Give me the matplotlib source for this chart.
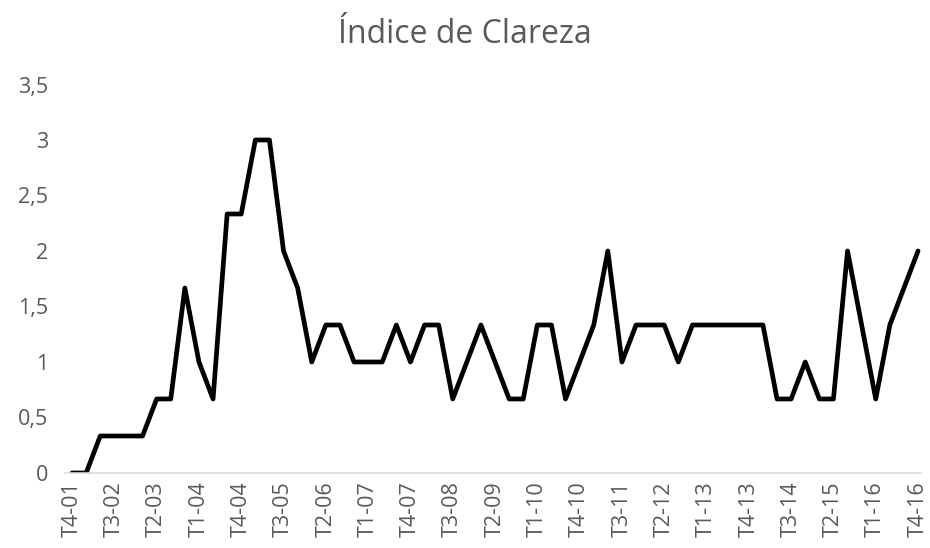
import matplotlib.pyplot as plt

# Índice de Clareza, trimestral T4-01 .. T4-16
t = 1 / 3
valores = [
    0, 0, t, t, t, t, 2*t, 2*t, 5*t, 1, 2*t,
    7*t, 7*t, 3, 3, 2, 5*t, 1, 4*t, 4*t, 1,
    1, 1, 4*t, 1, 4*t, 4*t, 2*t, 1, 4*t, 1,
    2*t, 2*t, 4*t, 4*t, 2*t, 1, 4*t, 2, 1, 4*t,
    4*t, 4*t, 1, 4*t, 4*t, 4*t, 4*t, 4*t, 4*t, 2*t,
    2*t, 1, 2*t, 2*t, 2, 4*t, 2*t, 4*t, 5*t, 2,
]

# rótulos trimestrais
trimestres = []
ano, tri = 1, 4
for _ in range(len(valores)):
    trimestres.append(f"T{tri}-{ano:02d}")
    tri += 1
    if tri > 4:
        tri = 1
        ano += 1

y_ticks = [0, 0.5, 1, 1.5, 2, 2.5, 3, 3.5]
y_labels = ["0", "0,5", "1", "1,5", "2", "2,5", "3", "3,5"]

plt.rcParams['font.family'] = ['Open Sans', 'DejaVu Sans']
cinza = '#595959'

fig = plt.figure(figsize=(9.3, 5.48), dpi=100)
ax = fig.add_axes([65 / 930, 0.1369, (921 - 65) / 930, 0.7089])

x = list(range(len(valores)))
ax.plot(x, valores, color='black', linewidth=3.4, solid_joinstyle='round',
        solid_capstyle='round')

ax.set_xlim(-0.5, 60.21)
ax.set_ylim(0, 3.5)
ax.set_yticks(y_ticks)
ax.set_yticklabels(y_labels)
ax.set_xticks(x[::3])
ax.set_xticklabels(trimestres[::3], rotation=90)

for s in ['top', 'right', 'left']:
    ax.spines[s].set_visible(False)
ax.spines['bottom'].set_color('#d9d9d9')
ax.spines['bottom'].set_linewidth(1.2)
ax.tick_params(axis='both', length=0, colors=cinza, labelsize=15.5)
ax.tick_params(axis='y', pad=12)
ax.tick_params(axis='x', pad=6)

fig.text(0.5, 0.937, "Índice de Clareza", ha='center', va='center',
         fontsize=23, color=cinza)

fig.savefig("out.png", dpi=100)
